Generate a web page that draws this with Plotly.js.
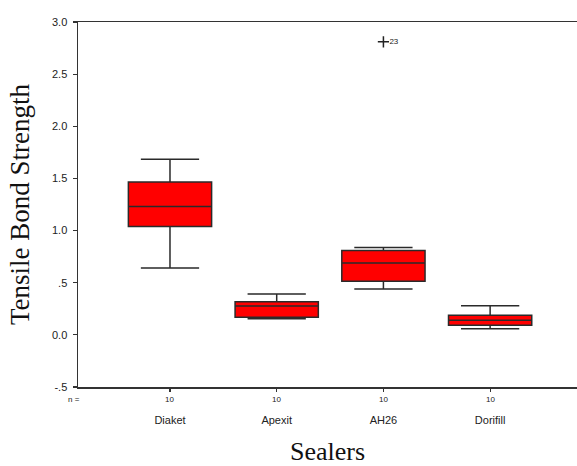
<!DOCTYPE html>
<html>
<head>
<meta charset="utf-8">
<script src="https://cdn.plot.ly/plotly-3.0.1.min.js"></script>
<style>html,body{margin:0;padding:0;background:#fff;}#chart{width:577px;height:466px;}</style>
</head>
<body>
<div id="chart"></div>
<script>
const categories = ["Diaket", "Apexit", "AH26", "Dorifill"];
const counts = [10, 10, 10, 10];
const lowerWhisker = [0.64, 0.155, 0.44, 0.058];
const q1Values = [1.04, 0.168, 0.513, 0.093];
const medians = [1.23, 0.276, 0.689, 0.141];
const q3Values = [1.465, 0.317, 0.808, 0.189];
const upperWhisker = [1.685, 0.391, 0.837, 0.279];
const outlierCategory = ["AH26"];
const outlierValues = [2.81];
const outlierLabels = ["23"];
const yTickVals = [-0.5, 0, 0.5, 1, 1.5, 2, 2.5, 3];
const yTickText = ["-.5", "0.0", ".5", "1.0", "1.5", "2.0", "2.5", "3.0"];

const pos = categories.map((c, i) => i);
const outX = outlierCategory.map(c => categories.indexOf(c));

const traces = [
  {
    type: "box",
    x: pos,
    q1: q1Values,
    median: medians,
    q3: q3Values,
    lowerfence: lowerWhisker,
    upperfence: upperWhisker,
    width: 0.78,
    whiskerwidth: 0.7,
    fillcolor: "#ff0000",
    line: {color: "#2a2a2a", width: 1.5},
    boxpoints: false,
    hoverinfo: "skip",
    showlegend: false
  },
  {
    type: "scatter",
    mode: "markers+text",
    x: outX,
    y: outlierValues,
    text: outlierLabels,
    textposition: "middle right",
    textfont: {family: "Liberation Sans, Arial, sans-serif", size: 8, color: "#222"},
    marker: {symbol: "cross-thin-open", size: 8, color: "#222", line: {color: "#222", width: 1.5}},
    showlegend: false,
    hoverinfo: "skip"
  }
];

const annotations = pos.map((p, i) => ({
  x: p, xref: "x", y: 0, yref: "paper", yanchor: "middle", yshift: -12,
  text: String(counts[i]), showarrow: false,
  font: {family: "Liberation Sans, Arial, sans-serif", size: 8, color: "#222"}
}));
annotations.push({
  x: 0, xref: "paper", y: 0, yref: "paper", xanchor: "center", yanchor: "middle",
  xshift: -4, yshift: -12, text: "n =", showarrow: false,
  font: {family: "Liberation Sans, Arial, sans-serif", size: 8, color: "#222"}
});

const layout = {
  width: 577, height: 466,
  margin: {l: 78, r: 0, t: 22, b: 79},
  paper_bgcolor: "#ffffff",
  plot_bgcolor: "#ffffff",
  showlegend: false,
  xaxis: {
    range: [-0.862, 3.814],
    tickvals: pos,
    ticktext: categories,
    ticks: "outside", ticklen: 3, tickwidth: 1.2, tickcolor: "#333",
    ticklabelstandoff: 19,
    showline: true, mirror: true, linecolor: "#333", linewidth: 1.5,
    showgrid: false, zeroline: false,
    tickfont: {family: "Liberation Sans, Arial, sans-serif", size: 11, color: "#222"},
    title: {text: "Sealers", font: {family: "Liberation Serif, Times New Roman, serif", size: 26, color: "#111"}, standoff: 19}
  },
  yaxis: {
    range: [-0.5, 3.0],
    tickvals: yTickVals,
    ticktext: yTickText,
    ticks: "outside", ticklen: 4, tickwidth: 1.2, tickcolor: "#333",
    ticklabelstandoff: 3,
    showline: true, mirror: false, linecolor: "#333", linewidth: 1.5,
    showgrid: false, zeroline: false,
    tickfont: {family: "Liberation Sans, Arial, sans-serif", size: 11, color: "#222"},
    title: {text: "Tensile Bond Strength", font: {family: "Liberation Serif, Times New Roman, serif", size: 27, color: "#111"}, standoff: 14}
  },
  annotations: annotations
};

Plotly.newPlot("chart", traces, layout, {displayModeBar: false, staticPlot: true});
</script>
</body>
</html>
